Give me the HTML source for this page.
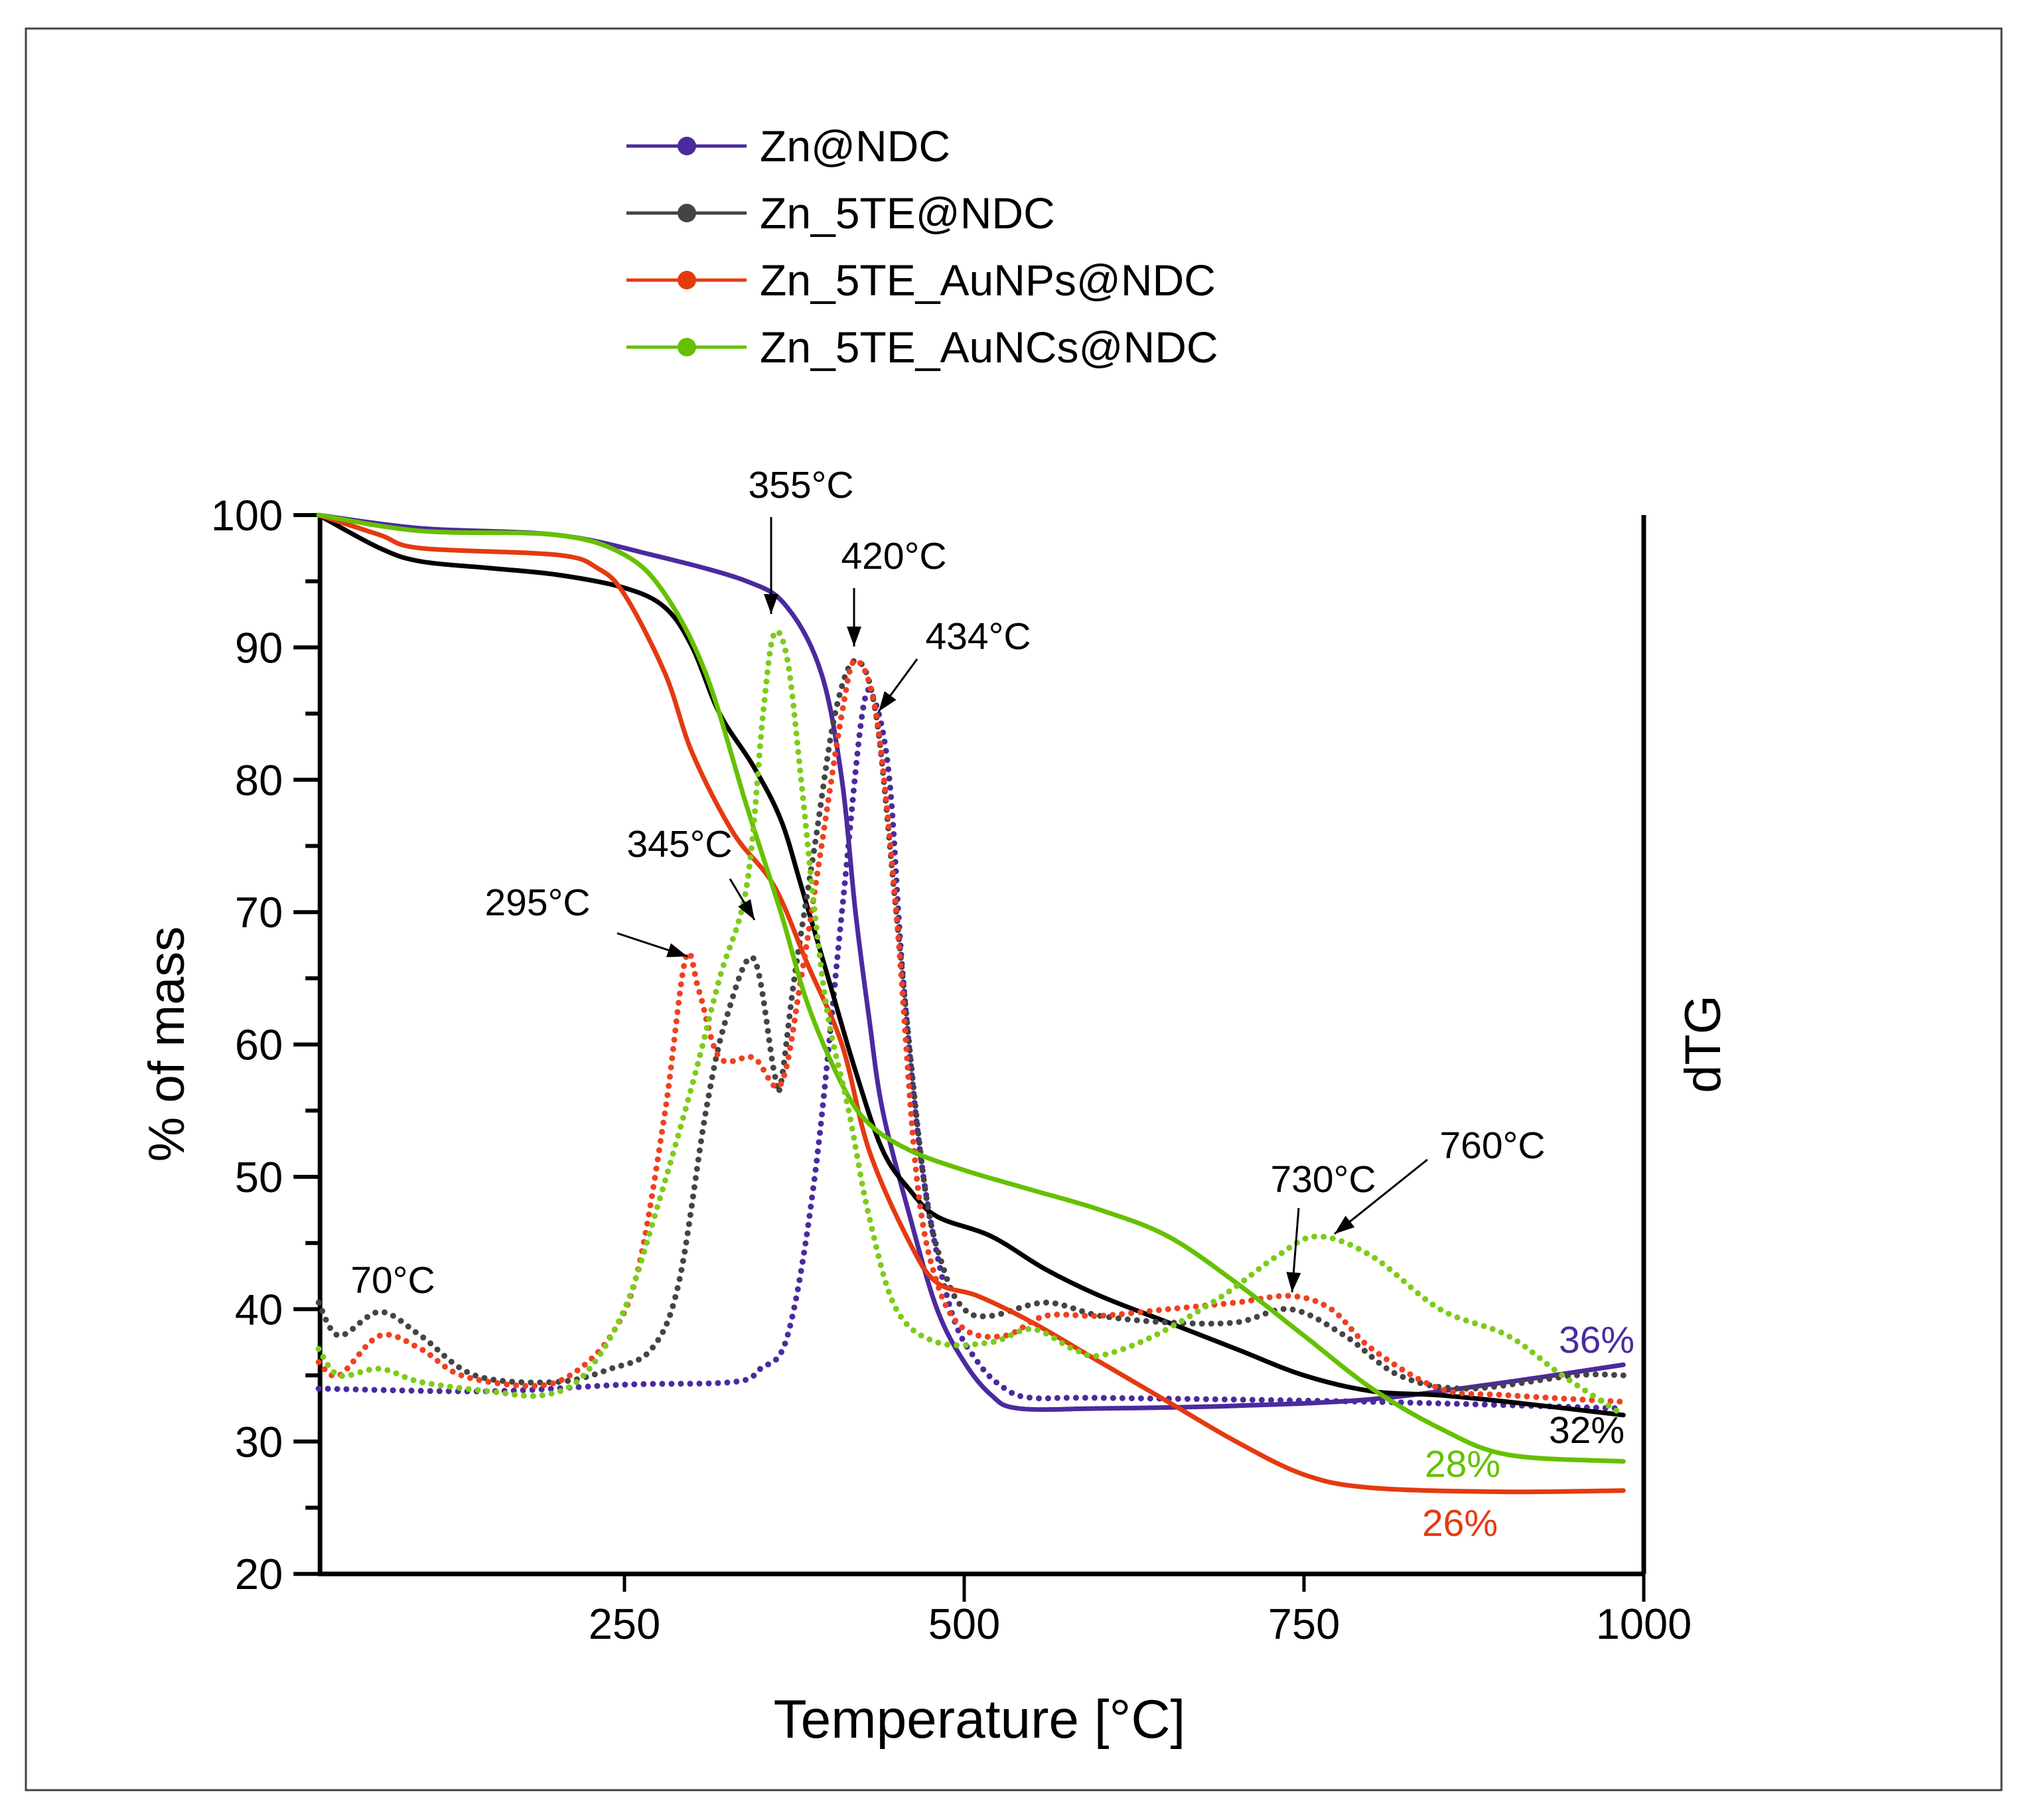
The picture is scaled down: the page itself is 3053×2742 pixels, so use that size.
<!DOCTYPE html>
<html><head><meta charset="utf-8"><style>
html,body{margin:0;padding:0;background:#fff}
svg{display:block;font-family:"Liberation Sans",Arial,sans-serif}
</style></head><body>
<svg id="chart" width="3053" height="2742" viewBox="0 0 3053 2742" xmlns="http://www.w3.org/2000/svg">
<rect x="39" y="43" width="2977" height="2654" fill="none" stroke="#444" stroke-width="3"/>
<g id="plot"></g>
</svg>
<script>
const yTicks = [20,30,40,50,60,70,80,90,100];
const xTicks = [250,500,750,1000];
const znSolid = [[25,100],[100,99],[200,98.5],[270,97],[340,95],[370,93],[395,88],[410,80],[420,70],[430,62],[440,55],[460,47],[480,40],[500,36],[520,33.5],[540,32.5],[600,32.5],[700,32.7],[800,33.2],[900,34.5],[985,35.8]];
const znDot = [[25,34],[150,33.8],[250,34.3],[330,34.5],[350,35.5],[370,38],[390,50],[410,70],[425,85],[434,86],[445,80],[455,65],[470,50],[490,40],[510,36],[530,34],[550,33.3],[600,33.3],[800,33],[985,32.5]];
const teSolid = [[25,100],[70,97.5],[100,96.5],[150,96],[200,95.5],[250,94.5],[280,93],[300,90],[320,85],[345,81],[365,77],[380,72],[400,65],[420,58],[440,52],[460,49],[480,47],[520,45.5],[560,43],[600,41],[650,39],[700,37],[750,35],[800,33.8],[850,33.5],[900,33],[985,32]];
const teDot = [[25,40.5],[40,38],[70,39.8],[100,38],[140,35],[200,34.5],[240,35.5],[270,37],[290,42],[310,55],[325,62],[345,66.5],[360,58],[365,57],[375,65],[390,75],[405,85],[420,89],[435,85],[450,70],[470,50],[485,43],[500,40],[520,39.5],[560,40.5],[600,39.5],[650,39],[700,39],[740,40],[780,38],[820,35],[870,34],[950,35],[985,35]];
const npSolid = [[25,100],[70,98.5],[100,97.5],[200,97],[230,96],[250,94],[280,88],[300,82],[330,76],[360,72],[385,66],[410,60],[430,52],[460,45],[480,42],[510,41],[550,39],[600,36],[650,33],[700,30],[750,27.5],[800,26.5],[900,26.2],[985,26.3]];
const npDot = [[25,36],[40,35],[70,38],[100,37],[130,35],[180,34.2],[210,35],[240,38],[260,43],[280,55],[295,66.5],[305,64],[320,59],[345,59],[365,57],[380,65],[395,75],[410,85],[420,89],[435,85],[450,70],[465,50],[480,42],[500,38.5],[530,38],[560,39.5],[600,39.5],[650,40],[700,40.5],[740,41],[770,40],[800,37],[850,34],[900,33.5],[985,33]];
const ncSolid = [[25,100],[100,98.8],[200,98.5],[250,97],[280,94],[310,88],[340,78],[365,70],[385,63],[410,57],[430,54],[460,52],[500,50.5],[550,49],[600,47.5],[650,45.5],[700,42],[750,38],[800,34],[850,31],[900,29],[985,28.5]];
const ncDot = [[25,37],[40,35],[70,35.5],[100,34.5],[150,33.8],[190,33.5],[220,35],[250,40],[275,48],[300,57],[320,65],[340,72],[352,85],[360,91],[370,89],[380,80],[390,70],[400,62],[415,55],[430,47],[450,40],[480,37.5],[520,37.5],[550,38.5],[580,37],[600,36.5],[640,38],[690,41],[730,44],[760,45.5],[800,44],[850,40],[900,38],[940,35],[985,32]];

const X0=429, PX=2.048, Y100=776, PY=19.94;
const sx=t=>X0+t*PX, sy=v=>Y100+(100-v)*PY;
const NS="http://www.w3.org/2000/svg";
const g=document.getElementById('plot');
function mk(tag,attrs,parent){const e=document.createElementNS(NS,tag);for(const k in attrs)e.setAttribute(k,attrs[k]);(parent||g).appendChild(e);return e;}
function txt(x,y,s,size,fill,anchor){const e=mk('text',{x:x,y:y,'font-size':size,fill:fill||'#000','text-anchor':anchor||'middle'});e.textContent=s;return e;}
function pathFrom(pts){
  const p=pts.map(d=>[sx(d[0]),sy(d[1])]);
  let s='M'+p[0][0]+','+p[0][1];
  for(let i=0;i<p.length-1;i++){
    const p0=p[Math.max(0,i-1)],p1=p[i],p2=p[i+1],p3=p[Math.min(p.length-1,i+2)];
    const c1=[p1[0]+(p2[0]-p0[0])/6,p1[1]+(p2[1]-p0[1])/6];
    const c2=[p2[0]-(p3[0]-p1[0])/6,p2[1]-(p3[1]-p1[1])/6];
    s+=' C'+c1[0]+','+c1[1]+' '+c2[0]+','+c2[1]+' '+p2[0]+','+p2[1];
  }
  return s;
}
const ax=mk('path',{d:`M${sx(26)},${Y100} V${sy(20)} H${sx(1000)} M${sx(1000)},${Y100} V${sy(20)}`,fill:'none',stroke:'#000','stroke-width':7});


for(let v=20;v<=100;v+=5){
  const major=v%10===0;
  const t=mk('line',{x1:sx(26)-(major?40:22),x2:sx(26),y1:sy(v),y2:sy(v),stroke:'#000','stroke-width':6});
  
  
}
yTicks.forEach(v=>{const e=txt(sx(26)-56,sy(v)+23,String(v),65,'#000','end');
  
  });
xTicks.forEach((t,i)=>{
  const l=mk('line',{x1:sx(t),x2:sx(t),y1:sy(20),y2:sy(20)+(i%2?30:15)+12,stroke:'#000','stroke-width':5});
  
  
  const e=txt(sx(t),sy(20)+98,String(t),65);
  
  
});
const series=[
 [znSolid,'#4b2a9e',false,'zn-ndc-tg'],[znDot,'#4b2a9e',true,'zn-ndc-dtg'],
 [teSolid,'#000',false,'zn-5te-tg'],[teDot,'#444',true,'zn-5te-dtg'],
 [npSolid,'#e43a10',false,'zn-5te-aunps-tg'],[npDot,'#f04020',true,'zn-5te-aunps-dtg'],
 [ncSolid,'#66c000',false,'zn-5te-auncs-tg'],[ncDot,'#7ccc1a',true,'zn-5te-auncs-dtg']];
series.forEach(s=>{
  const a={d:pathFrom(s[0]),fill:'none',stroke:s[1],'stroke-width':s[2]?9:7,'stroke-linecap':'round','stroke-linejoin':'round'};
  if(s[2])a['stroke-dasharray']='0 14';
  const p=mk('path',a);
  
  
});
let e=txt(1476,2618,'Temperature [°C]',82);


e=txt(0,0,'% of mass',76);e.setAttribute('transform','translate(277,1573) rotate(-90)');


e=txt(0,0,'dTG',76);e.setAttribute('transform','translate(2592,1573) rotate(-90)');


const leg=[['Zn@NDC','#4b2a9e'],['Zn_5TE@NDC','#444'],['Zn_5TE_AuNPs@NDC','#e43a10'],['Zn_5TE_AuNCs@NDC','#66c000']];
leg.forEach((l,i)=>{
  const y=220+i*101;
  const ln=mk('line',{x1:944,x2:1125,y1:y,y2:y,stroke:l[1],'stroke-width':5});
  
  
  const c=mk('circle',{cx:1035,cy:y,r:14,fill:l[1]});
  
  
  const t=txt(1145,y+23,l[0],66,'#000','start');
  
  
});
function arrow(x1,y1,x2,y2){
  const l=mk('line',{x1:x1,y1:y1,x2:x2,y2:y2,stroke:'#000','stroke-width':3});
  
  
  const a=Math.atan2(y2-y1,x2-x1),L=30,W=11;
  const bx=x2-L*Math.cos(a),by=y2-L*Math.sin(a);
  const h=mk('polygon',{points:`${x2},${y2} ${bx+W*Math.sin(a)},${by-W*Math.cos(a)} ${bx-W*Math.sin(a)},${by+W*Math.cos(a)}`,fill:'#000'});
  
  
}
const ann=[['355°C',1207,750],['420°C',1347,857],['434°C',1474,978],['345°C',1024,1291],['295°C',810,1379],['70°C',592,1948],['730°C',1994,1796],['760°C',2249,1745]];
ann.forEach(a=>{const t=txt(a[1],a[2],a[0],57);
  
  });
arrow(1162,779,1162,925);arrow(1287,886,1287,974);arrow(1382,993,1324,1072);
arrow(1100,1324,1137,1386);arrow(930,1406,1036,1441);arrow(1957,1820,1947,1947);arrow(2151,1747,2011,1859);
const pct=[['36%','#4b2a9e',2406,2038],['32%','#000',2391,2174],['28%','#66c000',2204,2225],['26%','#e43a10',2200,2314]];
pct.forEach(p=>{const t=txt(p[2],p[3],p[0],57,p[1]);
  
  });
</script>
</body></html>
